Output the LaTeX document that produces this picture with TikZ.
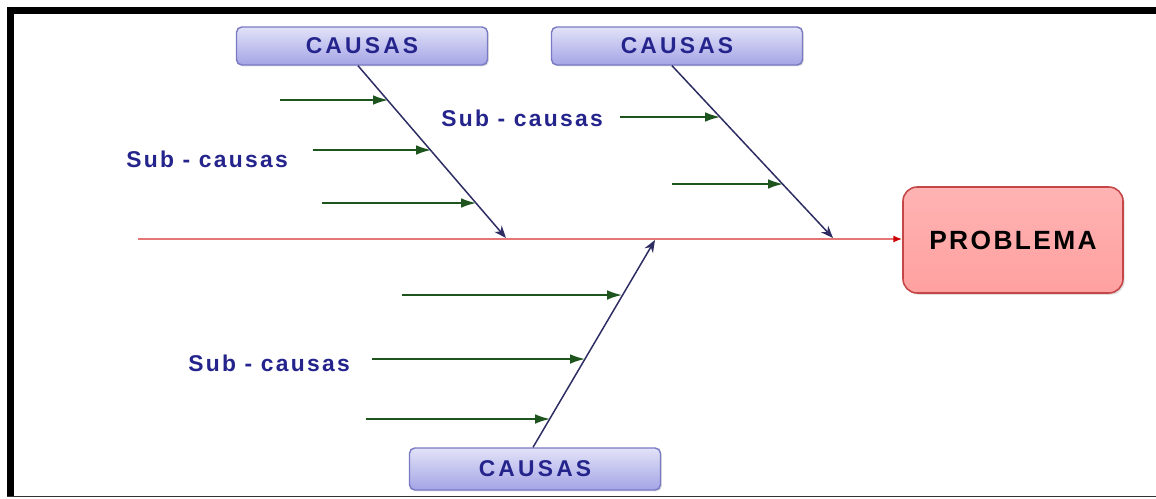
\documentclass[tikz,border=0pt]{standalone}
\usepackage{fontspec}
\setmainfont{Liberation Sans}
\newfontfamily\causefont[LetterSpace=14]{Liberation Sans}
\newfontfamily\subfont[LetterSpace=10]{Liberation Sans}
\newfontfamily\probfont[LetterSpace=9]{Liberation Sans}
\usetikzlibrary{arrows.meta,positioning,calc,shadows}
\definecolor{causeblue}{RGB}{36,36,140}
\definecolor{boxtop}{RGB}{226,226,248}
\definecolor{boxbottom}{RGB}{164,164,230}
\definecolor{boxedge}{RGB}{122,122,196}
\definecolor{probfill}{RGB}{255,160,160}
\definecolor{probedge}{RGB}{196,70,70}
\definecolor{bonecol}{RGB}{45,45,100}
\definecolor{subcol}{RGB}{30,85,30}
\definecolor{spinecol}{RGB}{228,118,118}

\begin{document}
\begin{tikzpicture}[x=0.02cm,y=-0.02cm,
    causebox/.style={draw=boxedge, line width=0.8pt, rounded corners=3pt,
      top color=boxtop, bottom color=boxbottom,
      drop shadow={opacity=0.25, shadow xshift=0.8pt, shadow yshift=-0.8pt},
      minimum width=5.02cm, minimum height=0.76cm, inner sep=0pt,
      font=\causefont\bfseries\fontsize{13}{15}\selectfont, text=causeblue},
    probbox/.style={draw=probedge, line width=0.9pt, rounded corners=8pt,
      top color=probfill!80!white, bottom color=probfill,
      drop shadow={opacity=0.25, shadow xshift=1pt, shadow yshift=-1pt},
      minimum width=4.4cm, minimum height=2.12cm, inner sep=0pt,
      font=\probfont\bfseries\fontsize{15}{18}\selectfont, text=black},
    sublabel/.style={inner sep=0pt, text=causeblue,
      font=\subfont\bfseries\fontsize{13}{15}\selectfont},
    bone/.style={bonecol, line width=0.85pt, -{Stealth[length=7pt,width=5.5pt]}},
    subarrow/.style={subcol, line width=0.9pt, -{Latex[length=8.5pt,width=5.5pt]}},
    spine/.style={spinecol, line width=1pt, -{Latex[length=5pt,width=4pt,color=red!80!black]}}]
  \useasboundingbox (0,0) rectangle (1156,498);

  % --- frame ---
  \fill[black] (7,7) rectangle (1156,14);
  \fill[black] (7,7) rectangle (14,497);
  \draw[black!80, line width=0.7pt] (7,496.5) -- (1156,496.5);

  % --- boxes ---
  \node[causebox] (causeA) at (362,46) {CAUSAS};
  \node[causebox] (causeB) at (677,46) {CAUSAS};
  \node[causebox, minimum height=0.84cm] (causeC) at (535,469) {CAUSAS};
  \node[probbox] (problema) at (1013,240) {PROBLEMA};

  % --- spine ---
  \coordinate (tail) at (138,239);
  \draw[spine] (tail) -- (problema.west |- tail);

  % --- main bones ---
  \coordinate (headA) at (506,238);
  \coordinate (headB) at (833,238);
  \coordinate (headC) at (655,240);
  \draw[bone] ($(causeA.south)+(-4,0)$) -- (headA);
  \draw[bone] ($(causeB.south)+(-5,0)$) -- (headB);
  \draw[bone] ($(causeC.north)+(-2,0)$) -- (headC);

  % --- sub-causes, top left ---
  \coordinate (a1) at (280,100); \coordinate (a1e) at (388,100);
  \coordinate (a2) at (313,150); \coordinate (a2e) at (431,150);
  \coordinate (a3) at (322,203); \coordinate (a3e) at (476,203);
  \draw[subarrow] (a1) -- (a1e);
  \draw[subarrow] (a2) -- (a2e);
  \draw[subarrow] (a3) -- (a3e);
  \node[sublabel] (subA) at (207,159) {Sub - causas};

  % --- sub-causes, top right ---
  \coordinate (b1) at (620,117); \coordinate (b1e) at (720,117);
  \coordinate (b2) at (672,184); \coordinate (b2e) at (783,184);
  \draw[subarrow] (b1) -- (b1e);
  \draw[subarrow] (b2) -- (b2e);
  \node[sublabel] (subB) at (522,118) {Sub - causas};

  % --- sub-causes, bottom ---
  \coordinate (c1) at (402,295); \coordinate (c1e) at (622,295);
  \coordinate (c2) at (372,359); \coordinate (c2e) at (585,359);
  \coordinate (c3) at (366,419); \coordinate (c3e) at (550,419);
  \draw[subarrow] (c1) -- (c1e);
  \draw[subarrow] (c2) -- (c2e);
  \draw[subarrow] (c3) -- (c3e);
  \node[sublabel] (subC) at (269,363) {Sub - causas};
\end{tikzpicture}
\end{document}
